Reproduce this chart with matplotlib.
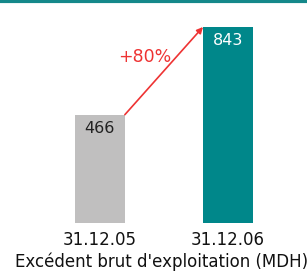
import matplotlib
matplotlib.use("Agg")
import matplotlib.pyplot as plt

dates = ["31.12.05", "31.12.06"]
values = [466, 843]
colors = ["#c0bfbf", "#00878a"]
growth = "+80%"
title = "Excédent brut d'exploitation (MDH)"

fig = plt.figure(figsize=(3.07, 2.73), dpi=100)
fig.patch.set_facecolor("white")

# teal rule across the top
fig.add_artist(plt.Line2D([0, 1], [0.995, 0.995], color="#14888a", lw=3,
                          transform=fig.transFigure))

ax = fig.add_axes([0, 50 / 273, 1, 196 / 273])
w = 0.39
x = [0, 1]
ax.bar(x, values, width=w, color=colors)
ax.set_xlim(-0.78, 1.617)
ax.set_ylim(0, max(values))
ax.axis("off")

for xi, v, c in zip(x, values, ["#222222", "white"]):
    ax.text(xi, v - 60, str(v), ha="center", va="center", color=c, fontsize=11.5)

ax.annotate("", xy=(x[1] - w / 2, values[1]), xytext=(x[0] + w / 2, values[0]),
            arrowprops=dict(arrowstyle="-|>", color="#ee3333", lw=1.2,
                            mutation_scale=9, shrinkA=0, shrinkB=0),
            annotation_clip=False)
ax.text(0.35, 714, growth, ha="center", va="center", color="#ee3333", fontsize=12.5)

for xi, d in zip(x, dates):
    ax.text(xi, -75, d, ha="center", va="center", fontsize=12, color="#111111")
ax.text(0.48, -168, title, ha="center", va="center", fontsize=12, color="#111111")

fig.savefig("out.png", dpi=100)
